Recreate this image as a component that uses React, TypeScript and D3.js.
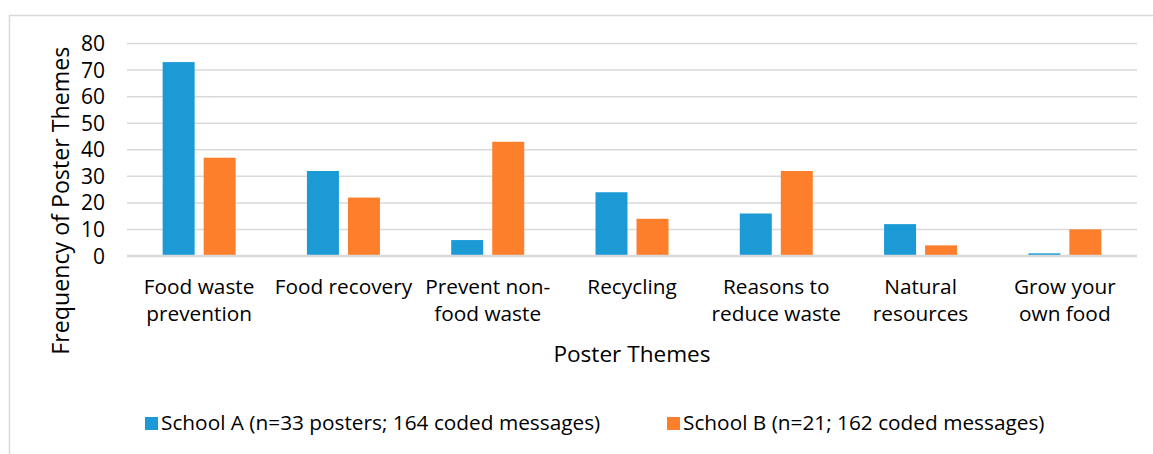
import React, { useEffect } from 'react';
import * as d3 from 'd3';

const categories = [
  ['Food waste', 'prevention'],
  ['Food recovery'],
  ['Prevent non-', 'food waste'],
  ['Recycling'],
  ['Reasons to', 'reduce waste'],
  ['Natural', 'resources'],
  ['Grow your', 'own food'],
];
const schoolA = [73, 32, 6, 24, 16, 12, 1];
const schoolB = [37, 22, 43, 14, 32, 4, 10];
const yTicks = [0, 10, 20, 30, 40, 50, 60, 70, 80];
const seriesNames = [
  'School A (n=33 posters; 164 coded messages)',
  'School B (n=21; 162 coded messages)',
];
const seriesColors = ['#1b9ad6', '#fe7f2b'];

const width = 1153;
const height = 454;
const plot = { left: 127, right: 1137, top: 43.5, bottom: 256 };
const font = '"Open Sans", Lato, sans-serif';

export default function App() {
  useEffect(() => {
    document.body.style.margin = '0';
  }, []);

  const keys = categories.map((c) => c.join(' '));
  const x0 = d3.scaleBand<string>()
    .domain(keys)
    .range([plot.left, plot.right])
    .paddingInner(0.494)
    .paddingOuter(0.247);
  const x1 = d3.scaleBand<string>()
    .domain(['A', 'B'])
    .range([0, x0.bandwidth()])
    .paddingInner(0.22);
  const y = d3.scaleLinear().domain([0, 80]).range([plot.bottom, plot.top]);

  const series = [schoolA, schoolB];

  return (
    <svg width={width} height={height} style={{ display: 'block', fontFamily: font }}>
      <rect x={0} y={0} width={width} height={height} fill="#fff" />
      {/* chart frame */}
      <rect x={9.5} y={15.5} width={1300} height={600} fill="none" stroke="#d9d9d9" strokeWidth={1.5} />

      {/* gridlines */}
      {yTicks.filter((t) => t > 0).map((t) => (
        <line key={t} x1={plot.left} x2={plot.right} y1={y(t)} y2={y(t)} stroke="#d9d9d9" strokeWidth={1.5} />
      ))}

      {/* y tick labels */}
      {yTicks.map((t) => (
        <text key={t} x={105} y={y(t)} dy="0.36em" textAnchor="end" fontSize={21} fill="#000">
          {t}
        </text>
      ))}

      {/* bars */}
      {keys.map((k, i) => (
        <g key={k} transform={`translate(${x0(k)},0)`}>
          {series.map((s, j) => (
            <rect
              key={j}
              x={x1(j === 0 ? 'A' : 'B')}
              y={y(s[i])}
              width={x1.bandwidth()}
              height={plot.bottom - y(s[i])}
              fill={seriesColors[j]}
            />
          ))}
        </g>
      ))}

      {/* x axis line */}
      <line x1={plot.left} x2={plot.right} y1={plot.bottom} y2={plot.bottom} stroke="#d9d9d9" strokeWidth={2.5} />

      {/* category labels */}
      {categories.map((lines, i) => (
        <text
          key={keys[i]}
          x={(x0(keys[i]) ?? 0) + x0.bandwidth() / 2}
          y={294}
          textAnchor="middle"
          fontSize={20.8}
          fill="#000"
        >
          {lines.map((l, li) => (
            <tspan key={li} x={(x0(keys[i]) ?? 0) + x0.bandwidth() / 2} dy={li === 0 ? 0 : 27}>
              {l}
            </tspan>
          ))}
        </text>
      ))}

      {/* axis titles */}
      <text x={(plot.left + plot.right) / 2} y={362} textAnchor="middle" fontSize={22.6} fill="#000">
        Poster Themes
      </text>
      <text
        transform={`translate(69,${(plot.top + 358) / 2}) rotate(-90)`}
        textAnchor="middle"
        fontSize={23.2}
        fill="#000"
      >
        Frequency of Poster Themes
      </text>

      {/* legend */}
      {seriesNames.map((name, j) => {
        const lx = j === 0 ? 145 : 667;
        return (
          <g key={name} transform={`translate(${lx},417)`}>
            <rect x={0} y={0} width={13} height={13} fill={seriesColors[j]} />
            <text x={16} y={13} fontSize={20.8} fill="#000">
              {name}
            </text>
          </g>
        );
      })}
    </svg>
  );
}
